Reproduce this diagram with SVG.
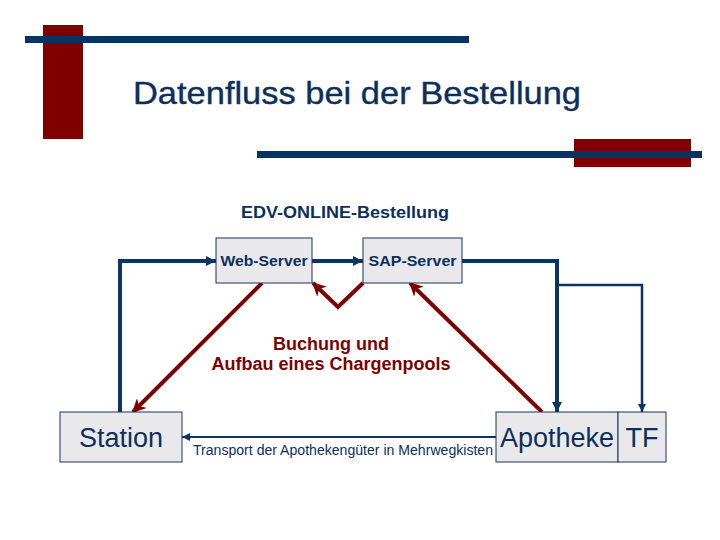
<svg xmlns="http://www.w3.org/2000/svg" width="720" height="540" viewBox="0 0 720 540">
<style>
.box{fill:#E9E9EC;stroke:#1B3558;stroke-width:1}
.lbl{font-family:"Liberation Sans",Arial,sans-serif;fill:#0D2F5A}
.b{font-weight:bold}
.blue{fill:none;stroke:#0A3463;stroke-linejoin:miter}
.red{fill:none;stroke:#7E0000;stroke-width:4}
</style>
<defs>
<marker id="ab" viewBox="0 0 10 10" refX="10" refY="5" markerWidth="10" markerHeight="10" markerUnits="userSpaceOnUse" orient="auto"><path d="M0,0 L10,5 L0,10 z" fill="#0A3463"/></marker>
<marker id="abs" viewBox="0 0 10 10" refX="10" refY="5" markerWidth="8" markerHeight="8" markerUnits="userSpaceOnUse" orient="auto"><path d="M0,0 L10,5 L0,10 z" fill="#0A3463"/></marker>
<marker id="ar" viewBox="0 0 10 10" refX="9" refY="5" markerWidth="14" markerHeight="14" markerUnits="userSpaceOnUse" orient="auto"><path d="M0,0 L10,5 L0,10 L3,5 z" fill="#7E0000"/></marker>
</defs>
<g id="decor">
<rect x="43" y="25" width="40" height="114" fill="#800000"/>
<rect x="25" y="36" width="444" height="7" fill="#06335F"/>
<rect x="574" y="139" width="117" height="28" fill="#800000"/>
<rect x="257" y="151" width="445" height="7" fill="#06335F"/>
<text class="lbl" x="357" y="104" font-size="32" text-anchor="middle" textLength="448" lengthAdjust="spacingAndGlyphs" fill="#0B3561" stroke="#0B3561" stroke-width="0.4">Datenfluss bei der Bestellung</text>
</g>
<text id="heading" class="lbl b" x="345" y="218" font-size="17" text-anchor="middle" textLength="208" lengthAdjust="spacingAndGlyphs">EDV-ONLINE-Bestellung</text>
<g id="connectors">
<polyline class="blue" stroke-width="4" points="120,412 120,261 216,261" marker-end="url(#ab)"/>
<line class="blue" stroke-width="4" x1="312" y1="261" x2="363" y2="261" marker-end="url(#ab)"/>
<polyline class="blue" stroke-width="4" points="462,261 557,261 557,412" marker-end="url(#ab)"/>
<polyline class="blue" stroke-width="2.5" points="557,285 642,285 642,412" marker-end="url(#abs)"/>
<line class="blue" stroke-width="2" x1="496" y1="437" x2="182" y2="437" marker-end="url(#abs)"/>
<line class="red" x1="262" y1="283" x2="133" y2="412" marker-end="url(#ar)"/>
<polyline class="red" points="363,283 338,307 313,283" marker-end="url(#ar)"/>
<line class="red" x1="542" y1="412" x2="410" y2="283" marker-end="url(#ar)"/>
</g>
<g id="web-server">
<rect class="box" x="216" y="238" width="96" height="45"/>
<text class="lbl b" x="264" y="266" font-size="15" text-anchor="middle" textLength="87" lengthAdjust="spacingAndGlyphs">Web-Server</text>
</g>
<g id="sap-server">
<rect class="box" x="363" y="238" width="99" height="45"/>
<text class="lbl b" x="412.5" y="266" font-size="15" text-anchor="middle" textLength="88" lengthAdjust="spacingAndGlyphs">SAP-Server</text>
</g>
<g id="buchung">
<text class="b" font-family="Liberation Sans, Arial, sans-serif" fill="#7E0000" font-size="18" text-anchor="middle"><tspan x="331" y="350">Buchung und</tspan><tspan x="331" y="370">Aufbau eines Chargenpools</tspan></text>
</g>
<g id="station">
<rect class="box" x="60" y="412" width="122" height="50"/>
<text class="lbl" x="121" y="447" font-size="27" text-anchor="middle">Station</text>
</g>
<g id="apotheke">
<rect class="box" x="496" y="412" width="122" height="50"/>
<text class="lbl" x="557" y="447" font-size="27" text-anchor="middle">Apotheke</text>
</g>
<g id="tf">
<rect class="box" x="618" y="412" width="48" height="50"/>
<text class="lbl" x="642" y="447" font-size="27" text-anchor="middle">TF</text>
</g>
<text id="transport" class="lbl" x="193" y="455" font-size="14" textLength="300" lengthAdjust="spacingAndGlyphs">Transport der Apothekengüter in Mehrwegkisten</text>
</svg>
